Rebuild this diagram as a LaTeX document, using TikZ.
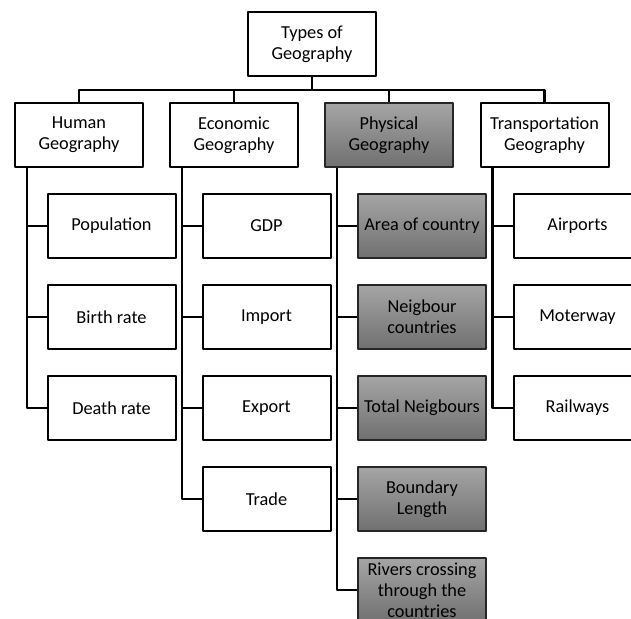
\documentclass[tikz,border=0pt]{standalone}
\usepackage{fontspec}
\setmainfont{Carlito}
\definecolor{phystop}{RGB}{165,165,165}
\definecolor{physbot}{RGB}{112,112,112}
\begin{document}
\begin{tikzpicture}[x=1pt, y=-1pt, line join=round]

		\tikzset{box/.style={draw, line width=2pt, minimum width=128pt, minimum height=64pt, inner sep=2pt, align=center, font=\fontsize{18.3}{21}\selectfont},
		phys/.style={box, line width=1.6pt, draw=black!85, top color=phystop, bottom color=physbot},
		link/.style={line width=2.2pt}}

		\useasboundingbox (0,0) rectangle (631,618);

		\node[box] (root) at (312,44) {Types of\\Geography};
		\node[box] (hum) at (79,135) {Human\\Geography};
		\node[box] (eco) at (234,135) {Economic\\Geography};
		\node[phys] (phy) at (389,135) {Physical\\Geography};
		\node[box] (tra) at (544.5,135) {Transportation\\Geography};

		\foreach \p in {hum,eco,phy,tra}
		\draw[link] (root.south) -- ++(0,13) -| (\p.north);

		\foreach \t [count=\i] in {Population,Birth rate,Death rate}
		\node[box] (hum\i) at (111.5,{135+91*\i}) {\t};
		\foreach \t [count=\i] in {GDP,Import,Export,Trade}
		\node[box] (eco\i) at (266.5,{135+91*\i}) {\t};
		\foreach \t [count=\i] in {Area of country,{Neigbour\\countries},Total Neigbours,{Boundary\\Length},{Rivers crossing\\through the\\countries}}
		\node[phys] (phy\i) at (422,{135+91*\i}) {\t};
		\foreach \t [count=\i] in {Airports,Moterway,Railways}
		\node[box] (tra\i) at (577.5,{135+91*\i}) {\t};

		\foreach \i in {1,2,3}
		\draw[link] ([xshift=13pt]hum.south west) |- (hum\i.west);
		\foreach \i in {1,...,4}
		\draw[link] ([xshift=13pt]eco.south west) |- (eco\i.west);
		\foreach \i in {1,...,5}
		\draw[link] ([xshift=13pt]phy.south west) |- (phy\i.west);
		\foreach \i in {1,2,3}
		\draw[link] ([xshift=13pt]tra.south west) |- (tra\i.west);
		\end{tikzpicture}
\end{document}
